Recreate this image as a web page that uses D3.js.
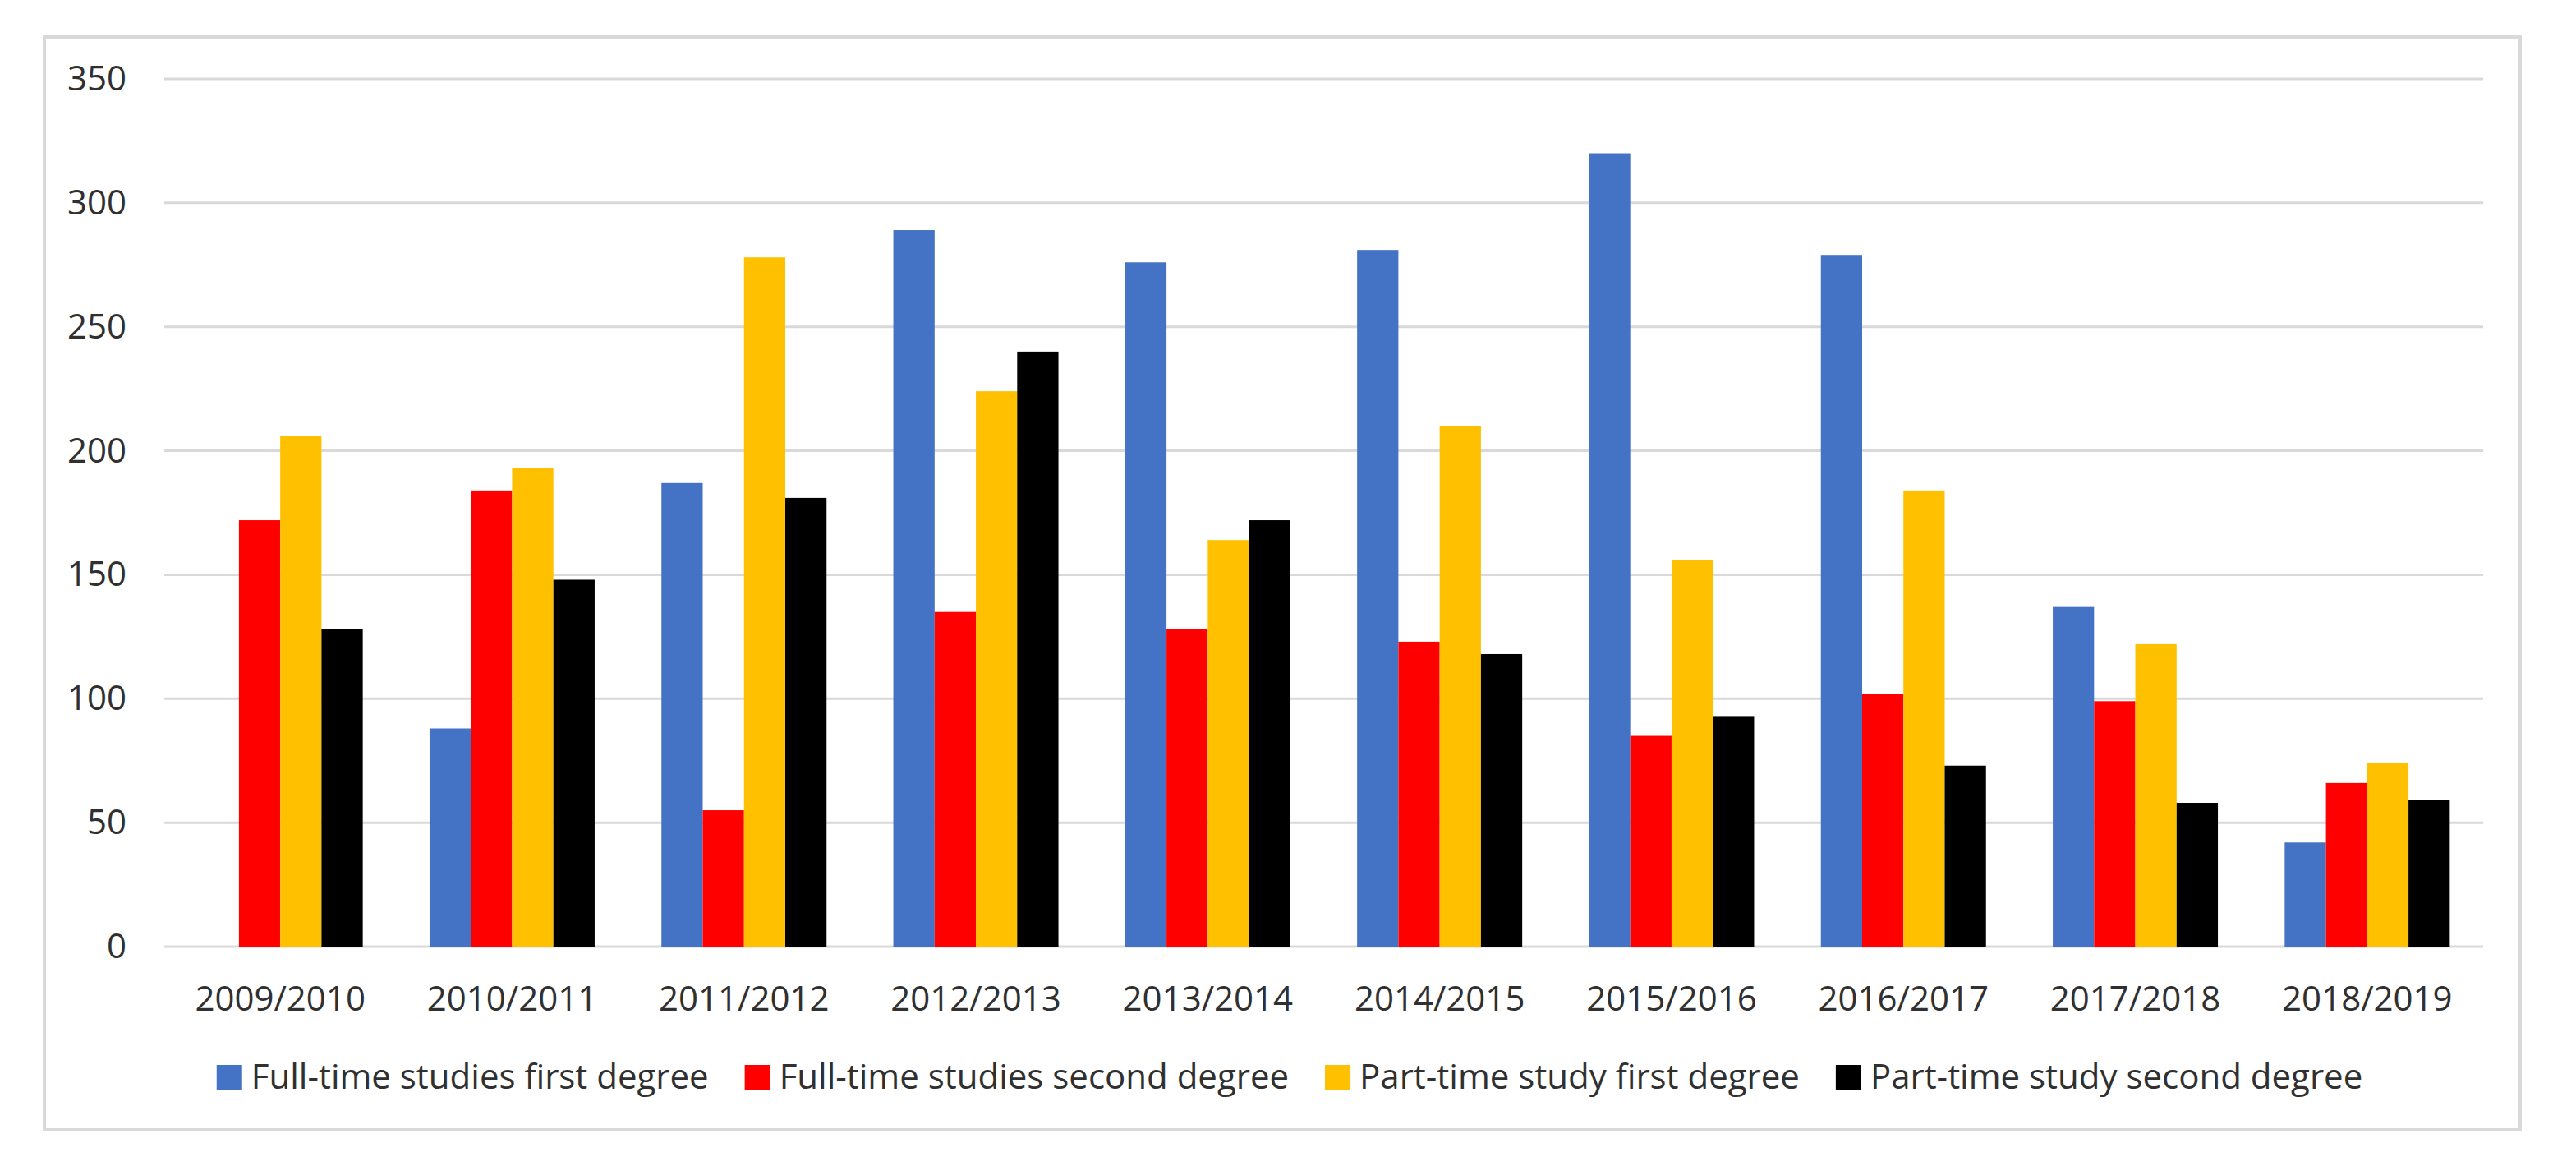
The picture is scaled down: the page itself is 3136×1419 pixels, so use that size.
<!DOCTYPE html>
<html>
<head>
<meta charset="utf-8">
<script src="https://cdnjs.cloudflare.com/ajax/libs/d3/7.8.5/d3.min.js"></script>
<style>
  body { margin: 0; background: #fff; }
  svg { display: block; font-family: "Open Sans", sans-serif; }
</style>
</head>
<body>
<div id="viz"></div>
<script>
// academic years on the x axis
var years = ["2009/2010", "2010/2011", "2011/2012", "2012/2013", "2013/2014",
             "2014/2015", "2015/2016", "2016/2017", "2017/2018", "2018/2019"];

var seriesNames = ["Full-time studies first degree", "Full-time studies second degree",
                   "Part-time study first degree", "Part-time study second degree"];
var seriesColors = ["#4472C4", "#FF0000", "#FFC000", "#000000"];

// values
var fullFirst  = [0, 88, 187, 289, 276, 281, 320, 279, 137, 42];
var fullSecond = [172, 184, 55, 135, 128, 123, 85, 102, 99, 66];
var partFirst  = [206, 193, 278, 224, 164, 210, 156, 184, 122, 74];
var partSecond = [128, 148, 181, 240, 172, 118, 93, 73, 58, 59];

var yTicks = [0, 50, 100, 150, 200, 250, 300, 350];

var allSeries = [fullFirst, fullSecond, partFirst, partSecond];

var width = 3136, height = 1419;
var plotLeft = 200, plotRight = 3023, plotTop = 96, plotBottom = 1152;
var textColor = "#303030";
var fontSize = 42;

var svg = d3.select("#viz").append("svg")
  .attr("width", width)
  .attr("height", height);

svg.append("rect")
  .attr("width", width).attr("height", height)
  .attr("fill", "#fff");

// chart frame
svg.append("rect")
  .attr("x", 54).attr("y", 45)
  .attr("width", 3014).attr("height", 1330)
  .attr("fill", "none")
  .attr("stroke", "#d9d9d9")
  .attr("stroke-width", 4);

var x = d3.scaleBand()
  .domain(years)
  .range([plotLeft, plotRight])
  .paddingInner(0.288)
  .paddingOuter(0.144);

var xs = d3.scaleBand()
  .domain(d3.range(seriesNames.length))
  .range([0, x.bandwidth()]);

var y = d3.scaleLinear()
  .domain([0, 350])
  .range([plotBottom, plotTop]);

// gridlines
svg.append("g")
  .selectAll("line")
  .data(yTicks)
  .join("line")
  .attr("x1", plotLeft).attr("x2", plotRight)
  .attr("y1", d => y(d)).attr("y2", d => y(d))
  .attr("stroke", "#d9d9d9")
  .attr("stroke-width", 3);

// y axis labels
var yAxis = svg.append("g")
  .attr("transform", "translate(" + (plotLeft - 46) + ",0)")
  .call(d3.axisLeft(y).tickValues(yTicks).tickSize(0).tickPadding(0));
yAxis.select(".domain").remove();
yAxis.selectAll("text")
  .attr("fill", textColor)
  .style("font-size", fontSize + "px")
  .style("font-family", "Open Sans");

// bars
var groups = svg.append("g")
  .selectAll("g")
  .data(years)
  .join("g")
  .attr("transform", d => "translate(" + x(d) + ",0)");

groups.selectAll("rect")
  .data((d, i) => allSeries.map((s, k) => ({k: k, v: s[i]})))
  .join("rect")
  .attr("x", d => xs(d.k))
  .attr("width", xs.bandwidth())
  .attr("y", d => y(d.v))
  .attr("height", d => y(0) - y(d.v))
  .attr("fill", d => seriesColors[d.k]);

// x axis labels
var xAxis = svg.append("g")
  .attr("transform", "translate(0," + plotBottom + ")")
  .call(d3.axisBottom(x).tickSize(0).tickPadding(0));
xAxis.select(".domain").remove();
xAxis.selectAll("text")
  .attr("dy", null)
  .attr("y", 78)
  .attr("fill", textColor)
  .style("font-size", fontSize + "px")
  .style("font-family", "Open Sans");

// legend, laid out from the measured text widths
var legend = svg.append("g");
var items = legend.selectAll("g")
  .data(seriesNames)
  .join("g");

items.append("rect")
  .attr("width", 31).attr("height", 31)
  .attr("y", 1296)
  .attr("fill", (d, i) => seriesColors[i]);

items.append("text")
  .attr("x", 42)
  .attr("y", 1325)
  .attr("fill", textColor)
  .style("font-size", fontSize + "px")
  .text(d => d);

var gap = 44;
var pos = 0;
var offsets = [];
items.each(function() {
  offsets.push(pos);
  pos += 42 + this.querySelector("text").getComputedTextLength() + gap;
});
var total = pos - gap;
var start = 1570 - total / 2;
items.attr("transform", (d, i) => "translate(" + (start + offsets[i]) + ",0)");
</script>
</body>
</html>
